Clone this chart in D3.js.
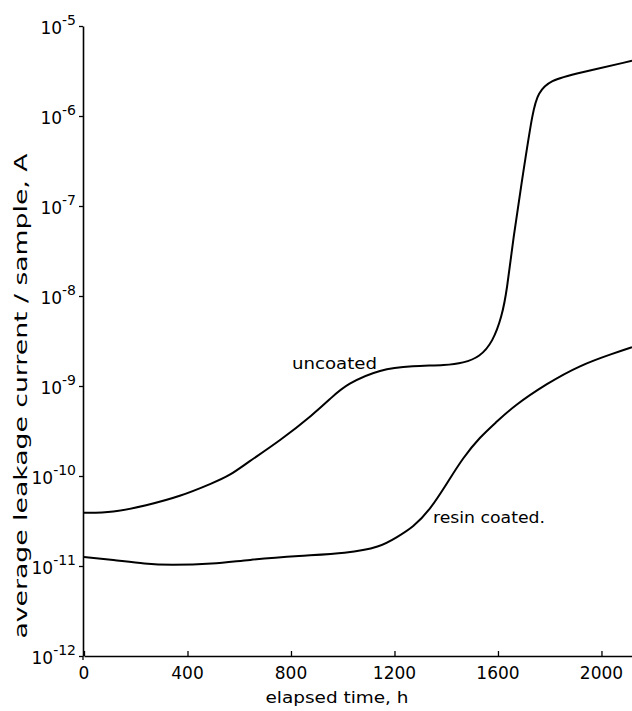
<!DOCTYPE html>
<html>
<head>
<script src="https://d3js.org/d3.v7.min.js"></script>
<style>
body { margin: 0; background: #fff; }
text { font-family: 'DejaVu Sans', 'Liberation Sans', sans-serif; fill: #000; }
</style>
</head>
<body>
<svg id="svg"></svg>
<script>
// elapsed time (h) and average leakage current (A)
const uncoatedHours = [0, 110, 240, 370, 500, 565, 630, 760, 885, 960, 1015, 1145, 1270, 1400, 1465, 1530, 1580, 1615, 1635, 1658, 1697, 1735, 1755, 1800, 1910, 2118];
const uncoatedAmps = [3.9e-11, 3.9e-11, 4.7e-11, 5.9e-11, 8.4e-11, 1.02e-10, 1.4e-10, 2.5e-10, 4.8e-10, 7.6e-10, 1.05e-9, 1.55e-9, 1.67e-9, 1.7e-9, 1.8e-9, 2.1e-9, 3.1e-9, 5.9e-9, 1.17e-8, 4.2e-8, 2.3e-7, 1.17e-6, 1.8e-6, 2.5e-6, 3.0e-6, 4.1e-6];
const coatedHours = [0, 110, 240, 330, 500, 630, 835, 1015, 1145, 1210, 1272, 1337, 1403, 1465, 1530, 1595, 1658, 1790, 1917, 2045, 2118];
const coatedAmps = [1.26e-11, 1.17e-11, 1.05e-11, 1.02e-11, 1.05e-11, 1.17e-11, 1.3e-11, 1.38e-11, 1.62e-11, 2.1e-11, 2.7e-11, 4.2e-11, 8.3e-11, 1.6e-10, 2.7e-10, 4e-10, 5.9e-10, 1.07e-9, 1.7e-9, 2.3e-9, 2.7e-9];
const xTicks = [0, 400, 800, 1200, 1600, 2000];
const yExponents = [-5, -6, -7, -8, -9, -10, -11, -12];

const width = 632, height = 711;
const svg = d3.select("#svg").attr("width", width).attr("height", height);

const x = d3.scaleLinear().domain([0, 2118]).range([84, 632]);
const y = d3.scaleLog().domain([1e-12, 1e-5]).range([656, 26]);

// axes
const xAxis = svg.append("g")
  .attr("transform", `translate(0,${y(1e-12)})`)
  .call(d3.axisBottom(x).tickValues(xTicks).tickSize(-5).tickSizeOuter(0).tickFormat(""));
xAxis.select(".domain").attr("stroke-width", 1.6);
xAxis.selectAll(".tick line").attr("stroke-width", 1.3);

const yAxis = svg.append("g")
  .attr("transform", `translate(${x(0) - 1},0)`)
  .call(d3.axisLeft(y).tickValues(yExponents.map(e => Math.pow(10, e))).tickSize(4).tickSizeOuter(0).tickFormat(""));
yAxis.select(".domain").attr("stroke-width", 1.6);
yAxis.selectAll(".tick line").attr("stroke-width", 1.3);

// small downward tick at the origin
svg.append("line")
  .attr("x1", x(0) - 1).attr("x2", x(0) - 1)
  .attr("y1", y(1e-12)).attr("y2", y(1e-12) + 4)
  .attr("stroke", "#000").attr("stroke-width", 1.3);

// x tick labels
svg.append("g").selectAll("text")
  .data(xTicks)
  .join("text")
  .attr("x", d => x(d))
  .attr("y", 679)
  .attr("text-anchor", "middle")
  .attr("font-size", 17)
  .text(d => d);

// y tick labels 10^n
const yl = svg.append("g").selectAll("text")
  .data(yExponents)
  .join("text")
  .attr("x", 76)
  .attr("y", d => y(Math.pow(10, d)) + 8)
  .attr("text-anchor", "end")
  .attr("font-size", 17);
yl.append("tspan").text("10");
yl.append("tspan").attr("dy", -9).attr("font-size", 14).text(d => "-" + (-d));

// axis titles
svg.append("text")
  .attr("x", 337).attr("y", 703)
  .attr("text-anchor", "middle")
  .attr("font-size", 16)
  .attr("textLength", 143).attr("lengthAdjust", "spacingAndGlyphs")
  .text("elapsed time, h");

svg.append("text")
  .attr("transform", "translate(27,396) rotate(-90)")
  .attr("text-anchor", "middle")
  .attr("font-size", 17)
  .attr("textLength", 485).attr("lengthAdjust", "spacingAndGlyphs")
  .text("average leakage current / sample, A");

// curves
const line = d3.line()
  .x(d => x(d[0]))
  .y(d => y(d[1]))
  .curve(d3.curveBasis);

svg.append("path")
  .datum(d3.zip(uncoatedHours, uncoatedAmps))
  .attr("d", line)
  .attr("fill", "none").attr("stroke", "#000").attr("stroke-width", 2);

svg.append("path")
  .datum(d3.zip(coatedHours, coatedAmps))
  .attr("d", line)
  .attr("fill", "none").attr("stroke", "#000").attr("stroke-width", 2);

// curve labels
svg.append("text")
  .attr("x", 292).attr("y", 369)
  .attr("font-size", 16)
  .attr("textLength", 85).attr("lengthAdjust", "spacingAndGlyphs")
  .text("uncoated");

svg.append("text")
  .attr("x", 433).attr("y", 523)
  .attr("font-size", 16)
  .attr("textLength", 112).attr("lengthAdjust", "spacingAndGlyphs")
  .text("resin coated.");
</script>
</body>
</html>
